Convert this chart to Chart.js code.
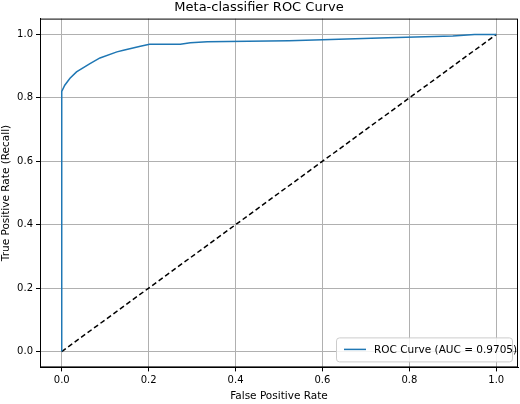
<!DOCTYPE html>
<html>
<head>
<meta charset="utf-8">
<script src="https://cdn.jsdelivr.net/npm/chart.js@4"></script>
<style>
  html, body { margin: 0; padding: 0; background: #fff; }
  #wrap { width: 520px; height: 404px; }
</style>
</head>
<body>
<div id="wrap"><canvas id="myChart"></canvas></div>
<script>
const fpr = [0, 0, 0.007, 0.019, 0.034, 0.065, 0.088, 0.127, 0.142, 0.181, 0.202, 0.273, 0.296, 0.335, 0.523, 0.6, 0.75, 0.9, 0.95, 1.0];
const tpr = [0, 0.82, 0.84, 0.862, 0.882, 0.908, 0.926, 0.945, 0.95, 0.963, 0.969, 0.969, 0.974, 0.977, 0.98, 0.983, 0.99, 0.995, 1.0, 1.0];
const ticks = [0, 0.2, 0.4, 0.6, 0.8, 1.0];
const rocLabel = "ROC Curve (AUC = 0.9705)";

// axes frame on all four sides + legend in the lower right corner
const legendInside = {
  id: "legendInside",
  afterDraw(chart) {
    const { ctx, chartArea } = chart;
    ctx.save();
    ctx.strokeStyle = "#000";
    ctx.lineWidth = 1;
    ctx.strokeRect(chartArea.left + 0.5, chartArea.top + 0.5, chartArea.right - chartArea.left - 1, chartArea.bottom - chartArea.top - 1);
    const w = 176, h = 24;
    const x = chartArea.right - w - 6, y = chartArea.bottom - h - 6;
    ctx.fillStyle = "rgba(255,255,255,0.85)";
    ctx.strokeStyle = "#ccc";
    ctx.beginPath();
    ctx.roundRect(x + 0.5, y + 0.5, w, h, 3);
    ctx.fill();
    ctx.stroke();
    ctx.strokeStyle = "#1f77b4";
    ctx.lineWidth = 1.5;
    ctx.beginPath();
    ctx.moveTo(x + 8, y + h / 2);
    ctx.lineTo(x + 30, y + h / 2);
    ctx.stroke();
    ctx.fillStyle = "#000";
    ctx.font = "10.5px 'DejaVu Sans'";
    ctx.textBaseline = "middle";
    ctx.fillText(rocLabel, x + 38, y + h / 2 + 1);
    ctx.restore();
  },
};

const chartElement = document.getElementById("myChart");
new Chart(chartElement, {
  type: "scatter",
  data: {
    datasets: [
      {
        label: rocLabel,
        data: fpr.map((x, i) => ({ x, y: tpr[i] })),
        showLine: true,
        borderColor: "#1f77b4",
        borderWidth: 1.5,
        pointRadius: 0,
        tension: 0,
      },
      {
        label: "chance",
        data: [{ x: 0, y: 0 }, { x: 1, y: 1 }],
        showLine: true,
        borderColor: "#000",
        borderWidth: 1.5,
        borderDash: [5, 3],
        pointRadius: 0,
      },
    ],
  },
  plugins: [legendInside],
  options: {
    animation: false,
    responsive: true,
    maintainAspectRatio: false,
    layout: { padding: { right: 2, top: 0, bottom: 0 } },
    plugins: {
      legend: { display: false },
      tooltip: { enabled: false },
      title: {
        display: true,
        text: "Meta-classifier ROC Curve",
        color: "#000",
        font: { family: "DejaVu Sans", size: 13, weight: "normal" },
        padding: { top: 0, bottom: 3 },
      },
    },
    scales: {
      x: {
        type: "linear",
        min: -0.05,
        max: 1.05,
        afterBuildTicks: (s) => { s.ticks = ticks.map((v) => ({ value: v })); },
        ticks: { color: "#000", font: { family: "DejaVu Sans", size: 10 }, callback: (v) => v.toFixed(1) },
        grid: { color: "#b0b0b0", tickColor: "#000", tickLength: 4 },
        border: { color: "#000" },
        title: { display: true, text: "False Positive Rate", color: "#000", font: { family: "DejaVu Sans", size: 10.5 }, padding: 1 },
      },
      y: {
        type: "linear",
        min: -0.05,
        max: 1.05,
        afterBuildTicks: (s) => { s.ticks = ticks.map((v) => ({ value: v })); },
        afterFit: (s) => { s.width = 40; },
        ticks: { color: "#000", font: { family: "DejaVu Sans", size: 10 }, callback: (v) => v.toFixed(1) },
        grid: { color: "#b0b0b0", tickColor: "#000", tickLength: 4 },
        border: { color: "#000" },
        title: { display: true, text: "True Positive Rate (Recall)", color: "#000", font: { family: "DejaVu Sans", size: 10.5 }, padding: 0 },
      },
    },
  },
});
</script>
</body>
</html>
